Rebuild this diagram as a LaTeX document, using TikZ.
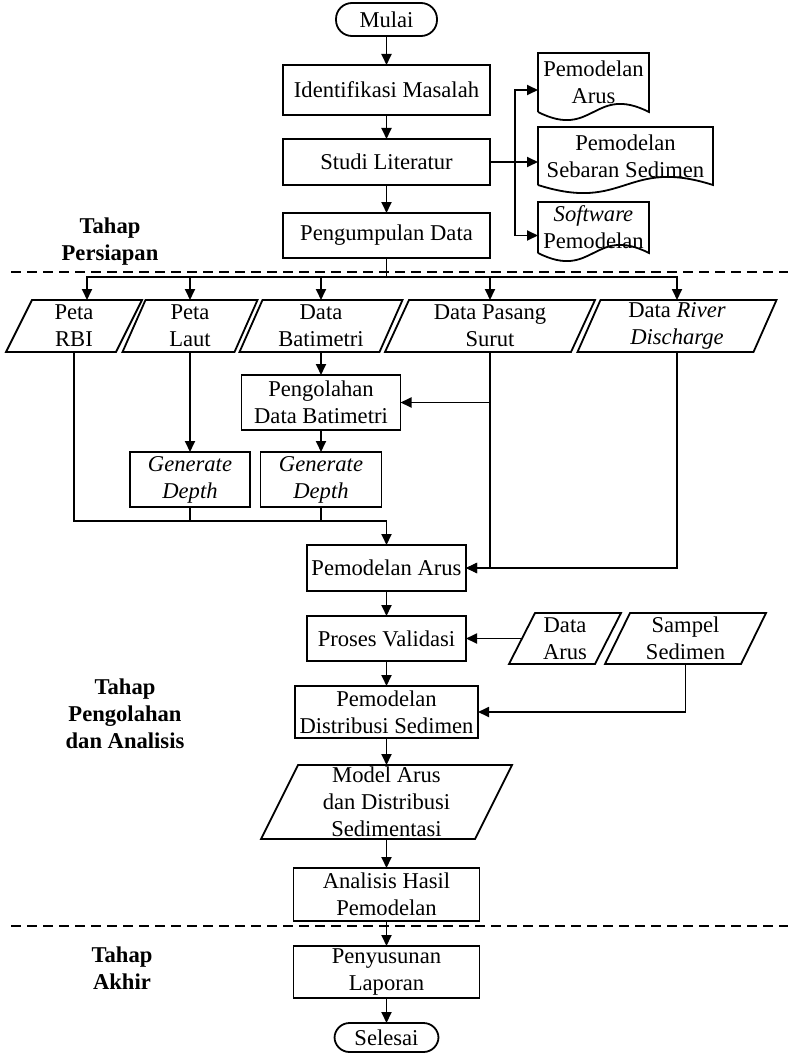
\documentclass[tikz,border=0pt]{standalone}
\usepackage{fontspec}
\setmainfont{Liberation Serif}
\usetikzlibrary{arrows.meta, positioning, calc}

\begin{document}
\begin{tikzpicture}[
    font=\fontsize{11.3pt}{13.5pt}\selectfont,
    box/.style={rectangle, draw, line width=0.9pt, minimum width=103.5pt, minimum height=23pt, inner sep=1pt, outer sep=0pt, align=center},
    term/.style={rectangle, draw, line width=0.9pt, rounded corners=7.5pt, minimum width=52pt, minimum height=15pt, inner sep=1pt, outer sep=0pt},
    io/.style={rectangle, minimum height=26pt, inner sep=0pt, outer sep=0pt, align=center},
    doc/.style={rectangle, minimum width=55.5pt, inner sep=0pt, outer sep=0pt, align=center},
    arr/.style={-{Triangle[length=5.5pt, width=5pt]}, line width=0.9pt},
    line/.style={line width=0.9pt},
    sep/.style={line width=0.9pt, dash pattern=on 5pt off 3pt},
    lbl/.style={font=\fontsize{11.3pt}{13.5pt}\selectfont\bfseries, align=center}
]

\useasboundingbox (0,0) rectangle (394pt,-527pt);

% alur utama
\node[term, minimum width=50.5pt, minimum height=16.5pt, rounded corners=8pt] (mulai) at (193.25pt,-9.75pt) {Mulai};
\node[box, below=14.5pt of mulai, minimum height=25pt] (idm) {Identifikasi Masalah};
\node[box, below=12pt of idm] (studi) {Studi Literatur};
\node[box, below=14pt of studi, minimum height=22.5pt] (kumpul) {Pengumpulan Data};

% literatur
\node[doc, right=24pt of idm, yshift=3.75pt, minimum height=29.5pt] (doc1) {Pemodelan\\Arus};
\node[doc, right=24pt of studi, yshift=3pt, minimum width=87.5pt, minimum height=29pt] (doc2) {Pemodelan\\Sebaran Sedimen};
\node[doc, right=24pt of kumpul, yshift=4pt, minimum height=25.5pt] (doc3) {\textit{Software}\\Pemodelan};

% data masukan
\node[io, minimum width=55pt] (rbi) at (37pt,-163pt) {Peta\\RBI};
\node[io, right=2.5pt of rbi, minimum width=56pt] (laut) {Peta\\Laut};
\node[io, right=2.5pt of laut, minimum width=70pt] (bat) {Data\\Batimetri};
\node[io, right=3pt of bat, minimum width=93pt] (pasut) {Data Pasang\\Surut};
\node[io, right=3pt of pasut, minimum width=88pt] (river) {Data \textit{River}\\\textit{Discharge}};

\node[box, below=11.5pt of bat, minimum width=79.5pt, minimum height=27.5pt] (olah) {Pengolahan\\Data Batimetri};
\node[box, below=50pt of laut, minimum width=60pt, minimum height=27.5pt] (gd1) {\textit{Generate}\\\textit{Depth}};
\node[box, below=11pt of olah, minimum width=60.5pt, minimum height=27.5pt] (gd2) {\textit{Generate}\\\textit{Depth}};

% pemodelan
\node[box, minimum width=79.5pt] (parus) at (193.25pt,-284pt) {Pemodelan Arus};
\node[box, below=12.5pt of parus, minimum width=79.5pt, minimum height=22.5pt] (valid) {Proses Validasi};
\node[io, right=28pt of valid, minimum width=43pt, minimum height=25.5pt] (darus) {Data\\Arus};
\node[io, right=4.75pt of darus, minimum width=68pt, minimum height=25.5pt] (sampel) {Sampel\\Sedimen};
\node[box, below=12.5pt of valid, minimum width=91.5pt, minimum height=26pt] (distr) {Pemodelan\\Distribusi Sedimen};
\node[io, below=13.5pt of distr, minimum width=107pt, minimum height=37pt] (model) {Model Arus\\dan Distribusi\\Sedimentasi};
\node[box, below=14.5pt of model, minimum width=93pt, minimum height=26.5pt] (anal) {Analisis Hasil\\Pemodelan};
\node[box, below=12.5pt of anal, minimum width=93pt, minimum height=26pt] (susun) {Penyusunan\\Laporan};
\node[term, below=12.5pt of susun, minimum height=14.5pt] (selesai) {Selesai};

% bentuk data dan dokumen
\foreach \n/\s in {rbi/6.5pt, laut/5.75pt, bat/5.75pt, pasut/6pt, river/5.75pt, darus/6.5pt, sampel/6.25pt, model/9.25pt}
  \draw[line] ([xshift=-\s]\n.south west) -- ([xshift=\s]\n.north west) -- ([xshift=\s]\n.north east) -- ([xshift=-\s]\n.south east) -- cycle;
\foreach \n/\w in {doc1/27.75pt, doc2/43.75pt, doc3/27.75pt}
  \draw[line] (\n.south west) -- (\n.north west) -- (\n.north east) -- (\n.south east) .. controls +(-\w,14pt) and +(\w,-14pt) .. (\n.south west);

% tahap
\node[lbl] (tp1) at (55pt,-120.75pt) {Tahap\\Persiapan};
\node[lbl] (tp2) at (62.5pt,-357pt) {Tahap\\Pengolahan\\dan Analisis};
\node[lbl] (tp3) at (61pt,-484.25pt) {Tahap\\Akhir};
\draw[sep] (5.5pt,-136pt) -- (394pt,-136pt);
\draw[sep] (5.5pt,-463pt) -- (394pt,-463pt);

% panah
\draw[arr] (mulai) -- (idm);
\draw[arr] (idm) -- (studi);
\draw[arr] (studi) -- (kumpul);
\coordinate[right=12.5pt of studi.east] (jct);
\draw[arr] (studi.east) -- (studi.east -| doc2.west);
\draw[arr] (jct) |- (idm.east -| doc1.west);
\draw[arr] (jct) |- (kumpul.east -| doc3.west);

\coordinate[below=9.5pt of kumpul.south] (bus);
\draw[line] (kumpul) -- (bus);
\draw[arr] (bus) -| ([xshift=6.5pt]rbi.north);
\foreach \n in {laut, bat, pasut, river}
  \draw[arr] (bus) -| (\n.north);

\draw[arr] (bat) -- (olah);
\draw[arr] (olah) -- (gd2);
\draw[arr] (laut) -- (gd1);
\draw[arr] (pasut.south |- olah.east) -- (olah.east);
\draw[arr] (pasut.south) |- (parus.east);
\draw[arr] (river.south) |- (parus.east);
\coordinate[above=12pt of parus.north] (jn);
\draw[arr] (rbi.south) |- (jn) -- (parus.north);
\draw[line] (gd1.south) -- (gd1.south |- jn);
\draw[line] (gd2.south) -- (gd2.south |- jn);

\draw[arr] (parus) -- (valid);
\draw[arr] (darus.west) -- (valid.east);
\draw[arr] (valid) -- (distr);
\draw[arr] (sampel.south) |- (distr.east);
\draw[arr] (distr) -- (model);
\draw[arr] (model) -- (anal);
\draw[arr] (anal) -- (susun);
\draw[arr] (susun) -- (selesai);
\end{tikzpicture}
\end{document}
